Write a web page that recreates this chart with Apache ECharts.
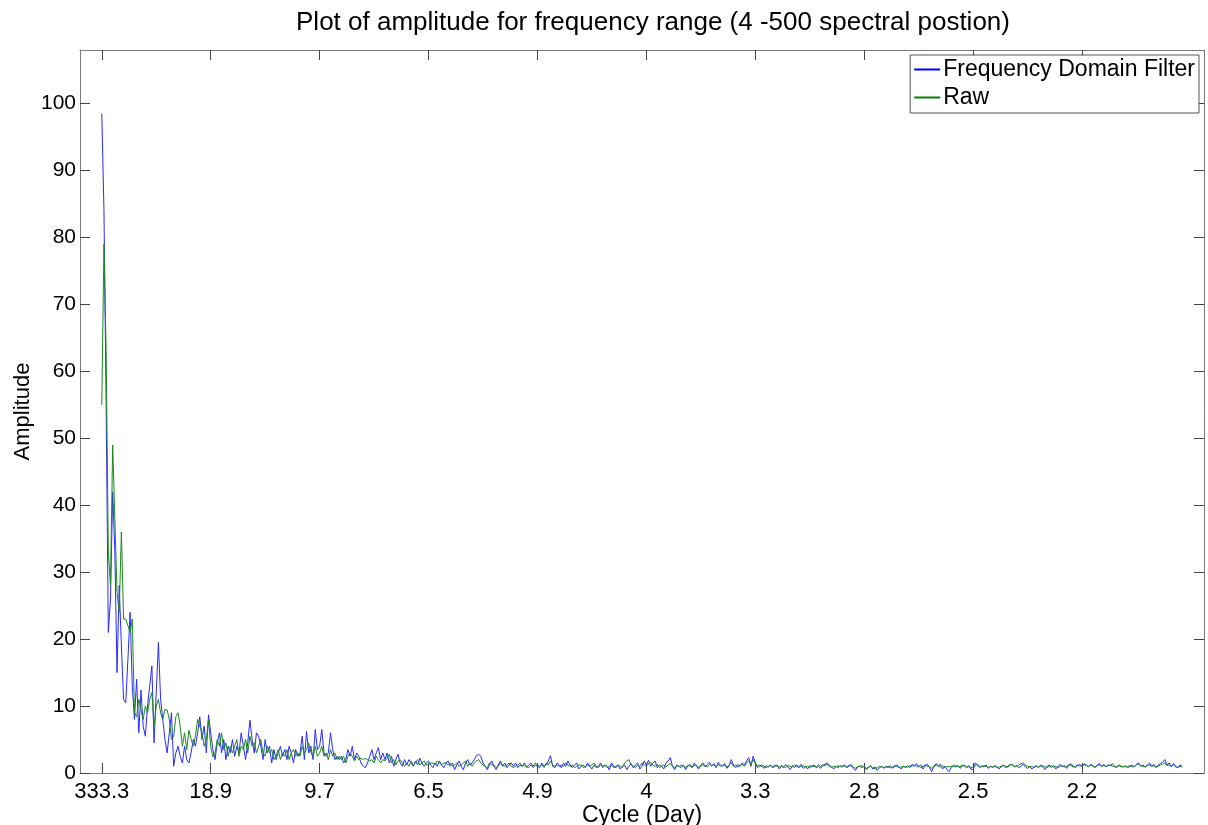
<!DOCTYPE html>
<html>
<head>
<meta charset="utf-8">
<script src="https://cdn.jsdelivr.net/npm/echarts@6/dist/echarts.min.js"></script>
<style>html,body{margin:0;padding:0;background:#fff}#c{width:1208px;height:825px}</style>
</head>
<body>
<div id="c"></div>
<script>
const titleText = 'Plot of amplitude for frequency range (4 -500 spectral postion)';
const seriesNames = ['Frequency Domain Filter', 'Raw'];
const startPosition = 4;
const tickPositions = [4, 54, 104, 154, 204, 254, 304, 354, 404, 454];
const tickLabels = ['333.3', '18.9', '9.7', '6.5', '4.9', '4', '3.3', '2.8', '2.5', '2.2'];
const yTicks = [0, 10, 20, 30, 40, 50, 60, 70, 80, 90, 100];

const filtered = [
98.5,84,55,21,26,42,33,15,28,19,
11,10.5,17,24,13,8,14,6,12.4,7,
5.5,10,13,16,4.5,12,19.5,11,8,5,
3,6,9,1,3,4,2.5,1.5,4,2,
1.5,3,5,4,6,8.4,5,7,3,8.7,
6,3.5,2,4.5,6,3,5,2,4,3,
5,2.5,4,3,6,4,2,4.5,7.9,5,
3,6,5.5,4,2,5,3,4,1.5,3.5,
2,3,4,2.5,3.5,2,4,3,1.5,3.5,
2.5,3,5.5,2,6.2,3,4,2,6.5,3.5,
4,6.5,3,2.5,3,6,3.5,2,2.5,2,
2.5,1.5,2,3.5,2.5,4,2,3,2.5,1.5,
1,0.8,1.5,2.5,3.5,2,3,3.8,2,3,
2,3,1.5,2.5,1,2,2.8,1.5,1,2,
1.2,2,1.5,1,1.8,1.2,2.2,1.5,1,1.5,
1.8,1.2,0.8,1.5,1,1.8,1.2,0.8,1.5,1.8,
1,1.5,0.5,1.2,1.8,1,0.5,1.5,2,1.2,
1.5,2,2.6,2.8,2.5,1.5,1,0.5,1.2,1.8,
1,0.5,1.2,1.8,1,1.5,0.8,1.2,1.5,1,
1.5,0.8,1.2,1,1.5,0.8,1.2,1.5,0.8,1.2,
1,0.8,1.5,1,1.2,1.8,2.6,1,0.8,1.5,
1.2,0.8,1.5,1,1.8,1.2,0.8,1.2,1.5,0.6,
1,1.2,0.8,1.5,1,0.6,1.2,0.8,1,1.5,
0.8,1.2,1,0.5,1.5,1,0.8,1.2,0.6,1,
1.2,0.5,1,1.4,0.8,1.2,1.5,0.6,1,1.8,
1.2,1.9,1,1.5,1.8,0.8,1.2,1,0.6,1.5,
1.8,2.3,1,0.5,1.2,1,0.8,1.2,0.5,1,
1.3,0.8,1.5,1,0.6,1.2,1.5,0.9,1.3,1.6,
1,1.4,0.8,1.6,1.2,1,1.4,0.7,1.1,2,
1.2,0.8,1.3,1,1.5,1.2,1.8,2.3,1,2.5,
1.6,0.8,1.2,1,0.7,1.1,0.9,1.2,0.8,1,
1.2,0.6,1,0.8,1.3,0.9,0.5,1.1,0.8,1.2,
0.9,1.3,0.7,1,0.6,1.1,0.9,1.2,0.8,1,
0.7,1.1,1.3,1.5,1.2,0.9,0.6,1,0.8,1.1,
0.9,1.2,0.8,1,1.3,0.7,0.4,0.9,1.1,0.8,
1,0.5,0.8,1.1,0.6,0.9,0.4,0.8,1,0.7,
1,0.8,1.1,0.7,1,1.2,0.9,0.6,1,0.8,
1.1,0.8,1.3,1,1.4,0.9,1.2,0.6,1.1,1.3,
0.8,0.2,1,1.4,1.1,1.3,0.6,1,0.5,0.2,
0.8,1.2,0.9,1.1,0.7,1,1.2,0.8,1,0.6,
0.5,1.5,1.2,0.8,1.1,0.9,1.2,0.7,1,0.8,
1.1,0.9,0.6,1,1.2,0.8,1,1.3,1.2,0.9,
1.1,0.8,1,1.3,0.9,0.7,1,0.6,0.9,1.1,
0.8,1.2,0.9,0.5,1,1.2,0.8,1.1,0.6,1,
1.3,0.9,1.1,0.7,1.2,1.4,1,0.8,1.1,1.3,
1,1.4,1.2,0.9,1.3,1.1,0.8,1.2,1.4,1,
1.3,0.9,1.2,1.1,1.4,1,0.8,1.2,1,0.9,
1.1,0.8,1,1.2,0.9,1.3,1.5,1,1.2,0.9,
1.2,1.5,1,1.3,0.8,1.2,1.4,1.6,2,1.2,
1.5,0.9,1.4,1,0.8,1.2,1
];

const raw = [
55,79,63,33,28,49,38,27,24,36,
23,23,22,21,23,9,8.4,11,9.4,8,
10,9,11,12,7,10,11,9,8,9.5,
9.4,8,5,5.5,8.4,9,7,4,6,3.5,
6.4,5,4,5.5,8,7,6,4,5,8,
4,2.4,3,5,4,6,3.5,4.5,2.5,4,
3,4,5,2.5,4,3.5,5,3,5.5,4,
4.5,3,4,5,3,2.5,4,3,3.5,2,
2.5,3.5,2,3,2.5,3.5,2,3,3.5,2.5,
3,2.5,4,3,3.5,4.5,3,2.5,4,2.5,
3,4,2.5,3,2,3.5,2.5,3,2,2.5,
2,2.5,1.5,2.5,3,2.5,1.8,2.5,2,2.2,
2,2.2,2,1.8,2,1.5,2.5,2,1.5,2,
1.8,2.2,2.8,1.5,2,1.2,1.8,2,1.5,1,
1.5,1,1.8,1.2,1.5,2,1.2,1.5,1.8,1.2,
1.2,1.5,1.5,1.2,1.8,1.5,1.2,1.5,1.5,1.2,
1.5,1,1.2,1.5,1,1.2,1.5,1.8,1,1.5,
1,1.5,1.8,2,1.5,1.2,1,0.8,1.5,1.2,
1.2,0.8,1,1.5,1.2,1,1.2,1.5,1,0.8,
1,1.2,1.5,1,1.2,1,0.8,1.2,1,1.5,
1.2,1,1.2,0.8,1.5,1.2,1.8,1.2,1,1.2,
1,1.2,1,1.5,1.2,1,1.2,0.8,1,1.2,
1.2,0.8,1,1.2,1,1.2,1.5,1,0.8,1.2,
1,1.2,0.8,1,1.2,0.8,1,1.2,1,0.8,
1.5,1.8,2,1.2,1,0.8,1.2,1,1.5,1.2,
1,1.4,1.6,1.2,1,1.3,0.8,1,1.2,0.9,
1.2,1.4,1,0.8,1.1,0.9,1.2,1,0.8,1.2,
1,0.9,1.1,1.2,0.8,1,1.2,1.1,0.9,1.3,
1.1,1.2,0.9,1.3,1,1.2,1.1,0.9,1.2,1.5,
1,1.2,0.9,1.1,1.3,1,1.5,1.8,1.2,2,
1.4,1.1,0.9,1.2,1,0.8,1,1.1,0.9,1.2,
1,0.9,1.1,1,0.8,1.1,1,0.9,1.2,1,
0.8,1,1.1,0.9,1,0.8,1.1,1,0.9,1.2,
1,1.2,1.1,1.3,1,0.8,1,0.9,1.1,0.9,
1.1,1,0.9,1.2,1,0.9,0.7,1,0.9,1.1,
0.9,0.7,0.9,1,0.8,0.6,0.8,1,0.9,0.8,
0.9,1,0.8,0.9,1.1,1,0.8,0.9,1,0.9,
0.9,1.1,1,1.2,1,1.1,0.8,1,1.2,1,
1,0.7,0.9,1.2,1,0.9,1.1,0.8,1,0.9,
1,0.9,1.1,1,0.9,1.2,1,0.9,1.1,0.8,
0.9,1.1,1.3,1,0.9,1.1,1,0.8,1,0.9,
1,0.8,0.9,1,1.1,1,0.9,1.2,1.3,1,
1,1.2,1.4,1.5,1.2,1,0.9,1,0.8,1,
0.9,1,1.1,0.9,0.8,1,1.1,0.9,1,0.8,
1,1.1,0.9,1,1.2,1.1,0.9,1,1.2,1,
1.1,1.2,1.1,1,1.2,1,0.9,1.1,1.2,1,
1.1,1,1.1,1.2,1,0.9,1,1.1,0.9,1,
0.9,1,1.1,0.9,1,1.2,1.3,1.1,1,0.9,
1.1,1.2,1,1.1,0.9,1,1.2,1.3,1.5,1.1,
1.2,1,1.2,0.9,0.8,1,0.9
];

const font = '"Liberation Sans", Arial, sans-serif';
const toPairs = arr => arr.map((v, i) => [startPosition + i, v]);
const labelFor = v => {
  const i = tickPositions.indexOf(v);
  return i >= 0 ? tickLabels[i] : '';
};
const axisColor = '#7a7a7a';

const chart = echarts.init(document.getElementById('c'), null, {renderer: 'canvas'});
chart.setOption({
  animation: false,
  backgroundColor: '#ffffff',
  title: {
    text: titleText,
    left: 648, textAlign: 'center', top: 5,
    textStyle: {fontFamily: font, fontSize: 26, fontWeight: 'normal', color: '#000'}
  },
  legend: {
    data: seriesNames,
    orient: 'vertical',
    right: 9, top: 55,
    icon: 'rect',
    itemWidth: 26, itemHeight: 2, itemGap: 5,
    padding: [3, 4, 4, 4],
    borderColor: '#555', borderWidth: 1, backgroundColor: '#fff',
    textStyle: {fontFamily: font, fontSize: 23, color: '#000', padding: [0, 0, 0, -2]}
  },
  grid: {left: 80, right: 4, top: 50, bottom: 52, outerBoundsMode: 'none', containLabel: false},
  xAxis: [{
    type: 'value', min: -6, max: 510, position: 'bottom',
    name: 'Cycle (Day)', nameLocation: 'middle', nameGap: 31, nameMoveOverlap: false,
    nameTextStyle: {fontFamily: font, fontSize: 23, color: '#000'},
    axisLine: {show: true, onZero: false, lineStyle: {color: axisColor, width: 1}},
    axisTick: {show: true, inside: true, length: 10, customValues: tickPositions, lineStyle: {color: '#444'}},
    axisLabel: {customValues: tickPositions, formatter: labelFor, fontFamily: font, fontSize: 22, color: '#000', margin: 8},
    splitLine: {show: false}
  }, {
    type: 'value', min: -6, max: 510, position: 'top',
    axisLine: {show: true, onZero: false, lineStyle: {color: axisColor, width: 1}},
    axisTick: {show: true, inside: true, length: 10, customValues: tickPositions, lineStyle: {color: '#444'}},
    axisLabel: {show: false},
    splitLine: {show: false}
  }],
  yAxis: [{
    type: 'value', min: 0, max: 108, position: 'left',
    name: 'Amplitude', nameLocation: 'middle', nameGap: 46, nameMoveOverlap: false,
    nameTextStyle: {fontFamily: font, fontSize: 22, color: '#000'},
    axisLine: {show: true, onZero: false, lineStyle: {color: axisColor, width: 1}},
    axisTick: {show: true, inside: true, length: 10, customValues: yTicks, lineStyle: {color: '#444'}},
    axisLabel: {customValues: yTicks, fontFamily: font, fontSize: 21, color: '#000', margin: 4},
    splitLine: {show: false}
  }, {
    type: 'value', min: 0, max: 108, position: 'right',
    axisLine: {show: true, onZero: false, lineStyle: {color: axisColor, width: 1}},
    axisTick: {show: true, inside: true, length: 10, customValues: yTicks, lineStyle: {color: '#444'}},
    axisLabel: {show: false},
    splitLine: {show: false}
  }],
  series: [{
    name: seriesNames[0], type: 'line', xAxisIndex: 0, yAxisIndex: 0,
    data: toPairs(filtered), showSymbol: false, symbol: 'none',
    color: '#0000ff', lineStyle: {color: '#2a2aff', width: 1}
  }, {
    name: seriesNames[1], type: 'line', xAxisIndex: 0, yAxisIndex: 0,
    data: toPairs(raw), showSymbol: false, symbol: 'none',
    color: '#008000', lineStyle: {color: '#1a8a1a', width: 1}
  }]
});
</script>
</body>
</html>
